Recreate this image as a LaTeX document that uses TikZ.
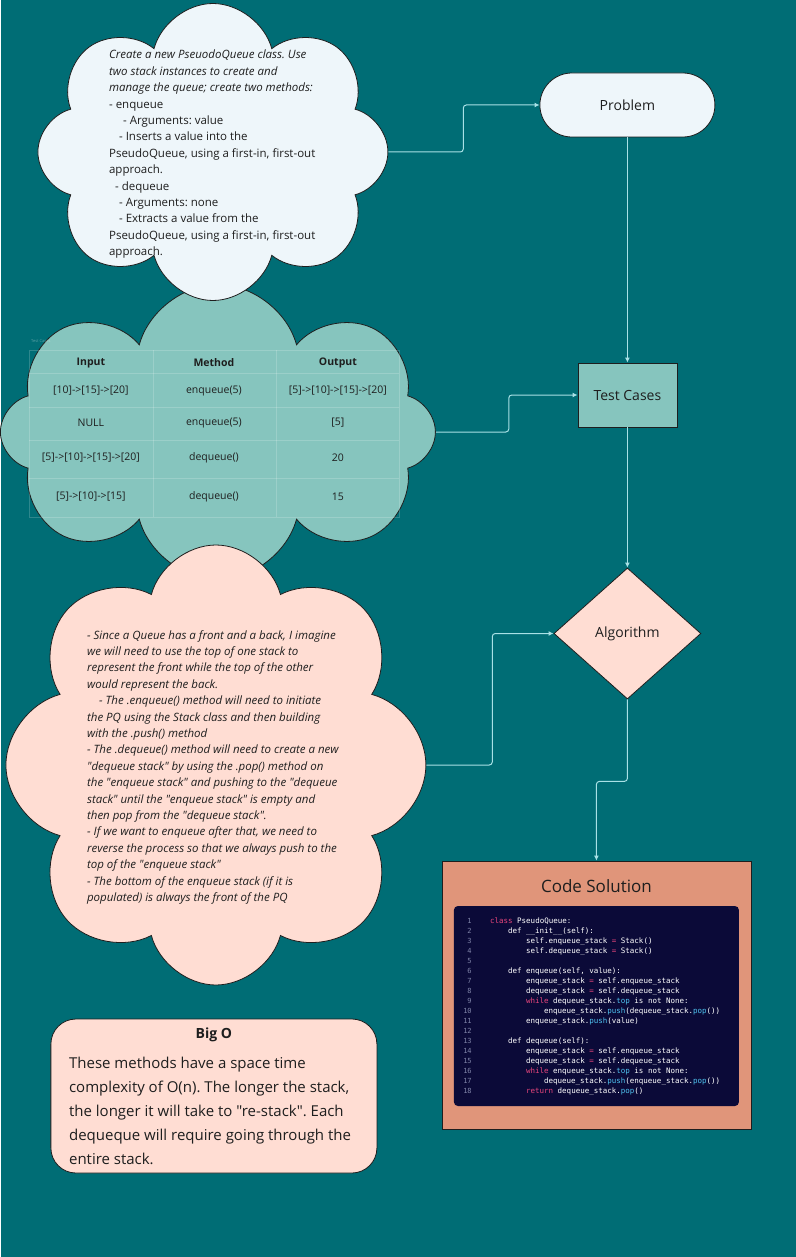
\documentclass[tikz,border=0pt]{standalone}
\usepackage{fontspec}
\setmainfont{Open Sans}[Ligatures=TeXOff]
\setmonofont{DejaVu Sans Mono}
\usetikzlibrary{shapes.symbols,shapes.geometric,arrows.meta}
\frenchspacing

\definecolor{bgteal}{HTML}{006D75}
\definecolor{paleblue}{HTML}{EEF6FA}
\definecolor{mint}{HTML}{86C5BE}
\definecolor{peach}{HTML}{FFDDD3}
\definecolor{salmon}{HTML}{E0957A}
\definecolor{navy}{HTML}{0B0A38}
\definecolor{linkcyan}{HTML}{A9E1E6}
\definecolor{codepink}{HTML}{E8467C}
\definecolor{codeblue}{HTML}{4FC3F0}
\definecolor{linenum}{HTML}{8084A8}
\definecolor{inkdark}{HTML}{1E1E1E}

\newcommand{\cpink}[1]{\textcolor{codepink}{#1}}
\newcommand{\cblue}[1]{\textcolor{codeblue}{#1}}

\tikzset{
  shapeline/.style={draw=inkdark, line width=0.8pt},
  puffy/.style={cloud, cloud puffs=8, cloud puff arc=150, cloud ignores aspect, shapeline, inner sep=0pt},
  link/.style={draw=linkcyan, line width=1pt, rounded corners=3pt, -{Latex[length=5pt,width=5pt]}},
  boxtext/.style={font=\fontsize{14}{17}\selectfont, text=inkdark},
  notes/.style={align=left, anchor=north west, inner sep=0pt, text=inkdark, font=\fontsize{11.5}{16.4}\selectfont\itshape},
  cell/.style={font=\fontsize{10.5}{12}\selectfont, text=inkdark},
  headcell/.style={font=\fontsize{10.5}{12}\selectfont\bfseries, text=inkdark},
  gridline/.style={draw=white, draw opacity=0.18, line width=0.6pt},
  codeline/.style={anchor=base west, inner sep=0pt, text=white, font=\ttfamily\fontsize{7.5}{9}\selectfont},
  codenum/.style={anchor=base east, inner sep=0pt, text=linenum, font=\ttfamily\fontsize{7}{9}\selectfont},
}

\begin{document}
\begin{tikzpicture}[x=1pt, y=-1pt]
\fill[bgteal] (0,0) rectangle (795,1257);

% clouds
\node[puffy, fill=mint, minimum width=435, minimum height=295] (casecloud) at (217,432) {};
\node[puffy, fill=paleblue, minimum width=350, minimum height=297] (taskcloud) at (212,152) {};
\node[puffy, fill=peach, minimum width=420, minimum height=440] (plancloud) at (215,765) {};

% task text
\node[notes] (tasktext) at (108,50) {Create a new PseuodoQueue class. Use\\
two stack instances to create and\\
manage the queue; create two methods:\\
\upshape - enqueue\\
\upshape\hspace*{14pt}- Arguments: value\\
\upshape\hspace*{10pt}- Inserts a value into the\\
\upshape PseudoQueue, using a first-in, first-out\\
\upshape approach.\\
\upshape\hspace*{6pt}- dequeue\\
\upshape\hspace*{10pt}- Arguments: none\\
\upshape\hspace*{10pt}- Extracts a value from the\\
\upshape PseudoQueue, using a first-in, first-out\\
\upshape approach.};

% test table
\node[font=\fontsize{4}{4}\selectfont, text=white, opacity=0.35, anchor=west, inner sep=0pt] (tabletag) at (30,341) {Test Cases};
\draw[gridline] (28,350) rectangle (398,517);
\draw[gridline] (28,373) -- (398,373);
\draw[gridline] (28,407) -- (398,407);
\draw[gridline] (28,440) -- (398,440);
\draw[gridline] (28,478) -- (398,478);
\draw[gridline] (152,350) -- (152,517);
\draw[gridline] (275,350) -- (275,517);
\node[headcell] (colin) at (90,363) {Input};
\node[headcell] (colmethod) at (213,363) {Method};
\node[headcell] (colout) at (337,363) {Output};
\foreach \y/\a/\b/\c in {391/{[10]->[15]->[20]}/{enqueue(5)}/{[5]->[10]->[15]->[20]},
                         423/{NULL}/{enqueue(5)}/{[5]},
                         458/{[5]->[10]->[15]->[20]}/{dequeue()}/{20},
                         497/{[5]->[10]->[15]}/{dequeue()}/{15}}{
  \node[cell] at (90,\y) {\a};
  \node[cell] at (213,\y) {\b};
  \node[cell] at (337,\y) {\c};
}

% plan text
\node[notes] (plantext) at (86,630) {- Since a Queue has a front and a back, I imagine\\
we will need to use the top of one stack to\\
represent the front while the top of the other\\
would represent the back.\\
\hspace*{12pt}- The .enqueue() method will need to initiate\\
the PQ using the Stack class and then building\\
with the .push() method\\
- The .dequeue() method will need to create a new\\
"dequeue stack" by using the .pop() method on\\
the "enqueue stack" and pushing to the "dequeue\\
stack" until the "enqueue stack" is empty and\\
then pop from the "dequeue stack".\\
- If we want to enqueue after that, we need to\\
reverse the process so that we always push to the\\
top of the "enqueue stack"\\
- The bottom of the enqueue stack (if it is\\
populated) is always the front of the PQ};

% flow boxes
\node[shapeline, fill=paleblue, rounded corners=32, minimum width=175, minimum height=64, boxtext] (problem) at (626.5,105) {Problem};
\node[shapeline, fill=mint, minimum width=99, minimum height=64, boxtext] (testcases) at (626.5,395) {Test Cases};
\node[diamond, shapeline, fill=peach, minimum width=147, minimum height=131, inner sep=0pt, boxtext] (algorithm) at (626.5,633.5) {Algorithm};
\node[shapeline, fill=salmon, minimum width=309, minimum height=268] (codesol) at (595.5,995) {};
\node[font=\fontsize{17}{20}\selectfont, text=inkdark] (codetitle) at (595.5,886) {Code Solution};
\node[fill=navy, rounded corners=4, minimum width=285, minimum height=200, inner sep=0pt] (codeblock) at (595.5,1006) {};

% code
\foreach \n in {1,...,18}
  \node[codenum] at (471,{923.5+10*(\n-1)}) {\n};
\foreach \n/\lv/\txt in {1/0/{\cpink{class} PseudoQueue:},
                         2/1/{def \_\_init\_\_(self):},
                         3/2/{self.enqueue\_stack \cpink{=} Stack()},
                         4/2/{self.dequeue\_stack \cpink{=} Stack()},
                         6/1/{def enqueue(self, value):},
                         7/2/{enqueue\_stack \cpink{=} self.enqueue\_stack},
                         8/2/{dequeue\_stack \cpink{=} self.dequeue\_stack},
                         9/2/{\cpink{while} dequeue\_stack.\cblue{top} is not None:},
                         10/3/{enqueue\_stack.\cblue{push}(dequeue\_stack.\cblue{pop}())},
                         11/2/{enqueue\_stack.\cblue{push}(value)},
                         13/1/{def dequeue(self):},
                         14/2/{enqueue\_stack \cpink{=} self.enqueue\_stack},
                         15/2/{dequeue\_stack \cpink{=} self.dequeue\_stack},
                         16/2/{\cpink{while} enqueue\_stack.\cblue{top} is not None:},
                         17/3/{dequeue\_stack.\cblue{push}(enqueue\_stack.\cblue{pop}())},
                         18/2/{\cpink{return} dequeue\_stack.\cblue{pop}()}}
  \node[codeline] at ({489+18*\lv},{923.5+10*(\n-1)}) {\txt};

% big O
\node[shapeline, fill=peach, rounded corners=25, minimum width=326, minimum height=154] (bigo) at (213,1096) {};
\node[font=\fontsize{14}{17}\selectfont\bfseries, text=inkdark] (bigotitle) at (213,1035) {Big O};
\node[notes, font=\fontsize{15}{24}\selectfont\upshape] (bigotext) at (68,1057) {These methods have a space time\\
complexity of O(n). The longer the stack,\\
the longer it will take to "re-stack". Each\\
dequeque will require going through the\\
entire stack.};

% connectors
\draw[link] (taskcloud.east) -- ++(75,0) |- (problem.west);
\draw[link] (problem.south) -- (testcases.north);
\draw[link] (casecloud.east) -- ++(73,0) |- (testcases.west);
\draw[link] (testcases.south) -- (algorithm.north);
\draw[link] (plancloud.east) -- ++(66,0) |- (algorithm.west);
\draw[link] (algorithm.south) -- ++(0,82) -| (codesol.north);
\end{tikzpicture}
\end{document}
